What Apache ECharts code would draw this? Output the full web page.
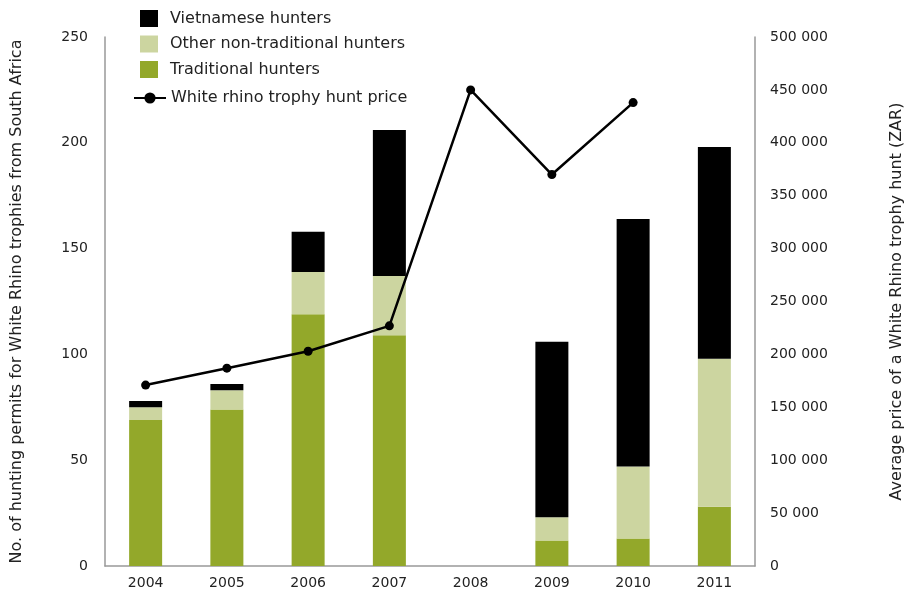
<!DOCTYPE html>
<html><head><meta charset="utf-8">
<script src="https://cdn.jsdelivr.net/npm/echarts@6/dist/echarts.min.js"></script>
<style>html,body{margin:0;padding:0;background:#fff}#c{width:905px;height:599px}</style>
</head><body><div id="c"></div>
<script>
const years = ['2004','2005','2006','2007','2008','2009','2010','2011'];
const traditional = [69, 74, 119, 109, null, 12, 13, 28];
const otherNonTrad = [6, 9, 20, 28, null, 11, 34, 70];
const vietnamese = [3, 3, 19, 69, null, 83, 117, 100];
const huntPrice = [171000, 187000, 203000, 227000, 450000, 370000, 438000, null];

const font = '"DejaVu Sans", sans-serif';
const chart = echarts.init(document.getElementById('c'));
chart.setOption({
  animation: false,
  textStyle: {fontFamily: font},
  grid: {left: 105, right: 150, top: 37, bottom: 33, containLabel: false, outerBoundsMode: 'none'},
  legend: [
    {orient: 'vertical', left: 140, top: 10, padding: 0, itemWidth: 18, itemHeight: 17, itemGap: 8.5, icon: 'rect',
     textStyle: {fontSize: 16, color: '#222', fontFamily: font, padding: [0, 0, 0, 7]},
     data: ['Vietnamese hunters', 'Other non-traditional hunters', 'Traditional hunters']},
    {orient: 'vertical', left: 133, top: 90, padding: 0, itemWidth: 32, itemHeight: 14,
     textStyle: {fontSize: 16, color: '#222', fontFamily: font},
     data: ['White rhino trophy hunt price']}
  ],
  xAxis: {type: 'category', data: years,
    axisLine: {lineStyle: {color: '#999', width: 1.5}}, axisTick: {show: false},
    axisLabel: {fontSize: 14, color: '#222', margin: 10}},
  yAxis: [
    {type: 'value', min: 0, max: 250, interval: 50,
     name: 'No. of hunting permits for White Rhino trophies from South Africa',
     nameLocation: 'middle', nameGap: 80, nameTextStyle: {fontSize: 16, color: '#222'},
     axisLine: {show: true, lineStyle: {color: '#999', width: 1.5}}, axisTick: {show: false},
     splitLine: {show: false}, axisLabel: {fontSize: 14, color: '#222', margin: 17}},
    {type: 'value', min: 0, max: 500000, interval: 50000,
     name: 'Average price of a White Rhino trophy hunt (ZAR)',
     nameLocation: 'middle', nameGap: 134, nameRotate: 90, nameTextStyle: {fontSize: 16, color: '#222'},
     axisLine: {show: true, lineStyle: {color: '#999', width: 1.5}}, axisTick: {show: false},
     splitLine: {show: false},
     axisLabel: {fontSize: 14, color: '#222', margin: 15,
       formatter: v => v === 0 ? '0' : String(v).replace(/\B(?=(\d{3})+(?!\d))/g, ' ')}}
  ],
  series: [
    {name: 'Traditional hunters', type: 'bar', stack: 'p', data: traditional, barWidth: 33,
     itemStyle: {color: '#93a82a'}},
    {name: 'Other non-traditional hunters', type: 'bar', stack: 'p', data: otherNonTrad,
     itemStyle: {color: '#ccd5a0'}},
    {name: 'Vietnamese hunters', type: 'bar', stack: 'p', data: vietnamese,
     itemStyle: {color: '#000'}},
    {name: 'White rhino trophy hunt price', type: 'line', yAxisIndex: 1, data: huntPrice,
     symbol: 'circle', symbolSize: 9, lineStyle: {color: '#000', width: 2.5},
     itemStyle: {color: '#000'}}
  ]
});
</script></body></html>
